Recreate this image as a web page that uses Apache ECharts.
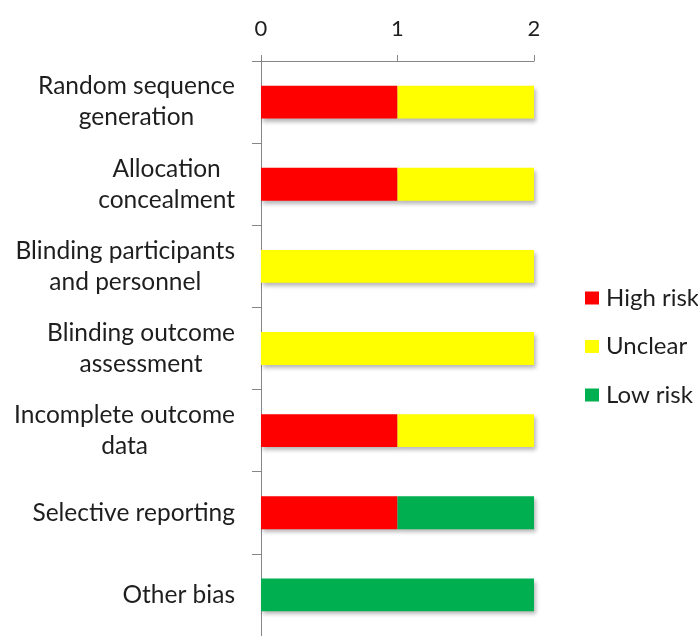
<!DOCTYPE html>
<html>
<head>
<meta charset="utf-8">
<script src="https://cdn.jsdelivr.net/npm/echarts@6/dist/echarts.min.js"></script>
<style>
  html, body { margin: 0; padding: 0; background: #fff; }
  #chart { width: 698px; height: 636px; }
</style>
</head>
<body>
<div id="chart"></div>
<script>
// Risk-of-bias domains (top to bottom) and study counts per judgement
var domains = [
  'Random sequence\ngeneration',
  'Allocation\nconcealment',
  'Blinding participants\nand personnel',
  'Blinding outcome\nassessment',
  'Incomplete outcome\ndata',
  'Selective reporting',
  'Other bias'
];
var highRisk = [1, 1, 0, 0, 1, 1, 0];
var unclear  = [1, 1, 2, 2, 1, 0, 0];
var lowRisk  = [0, 0, 0, 0, 0, 1, 2];
var xTicks = [0, 1, 2];

var FONT = 'Lato, "Open Sans", sans-serif';
var AXIS_GRAY = '#868686';
var TEXT = '#1e1e1e';

function barSeries(name, data, color) {
  return {
    name: name,
    type: 'bar',
    stack: 'total',
    data: data,
    barWidth: '40%',
    itemStyle: {
      color: color,
      shadowColor: 'rgba(0,0,0,0.28)',
      shadowBlur: 4,
      shadowOffsetX: 2,
      shadowOffsetY: 3
    }
  };
}

var chart = echarts.init(document.getElementById('chart'), null, { renderer: 'canvas' });
chart.setOption({
  animation: false,
  backgroundColor: '#ffffff',
  textStyle: { fontFamily: FONT },
  grid: { left: 261, top: 61, width: 273, height: 579, containLabel: false },
  legend: {
    orient: 'vertical',
    left: 585,
    top: 286,
    padding: 0,
    itemWidth: 14,
    itemHeight: 13,
    itemGap: 24.5,
    icon: 'rect',
    textStyle: { fontFamily: FONT, fontSize: 24, lineHeight: 24, color: TEXT, padding: [0, 0, 0, 2] },
    data: ['High risk', 'Unclear', 'Low risk']
  },
  xAxis: {
    type: 'value',
    position: 'top',
    min: xTicks[0],
    max: xTicks[xTicks.length - 1],
    interval: 1,
    splitLine: { show: false },
    axisLine: { show: true, lineStyle: { color: AXIS_GRAY, width: 1 } },
    axisTick: { show: true, length: 6, lineStyle: { color: AXIS_GRAY } },
    axisLabel: { fontFamily: FONT, fontSize: 22, color: TEXT, margin: 21 }
  },
  yAxis: {
    type: 'category',
    inverse: true,
    data: domains,
    axisLine: { show: true, lineStyle: { color: AXIS_GRAY, width: 1 } },
    axisTick: { show: true, length: 9, lineStyle: { color: AXIS_GRAY } },
    axisLabel: {
      margin: 26,
      align: 'right',
      fontFamily: FONT,
      fontSize: 24.5,
      color: TEXT,
      lineHeight: 31,
      formatter: function (v) {
        return v.split('\n').map(function (s) { return '{c|' + s + '}'; }).join('\n');
      },
      rich: {
        c: { align: 'center', fontFamily: FONT, fontSize: 24.5, color: TEXT, lineHeight: 31 }
      }
    }
  },
  series: [
    barSeries('High risk', highRisk, '#ff0000'),
    barSeries('Unclear', unclear, '#ffff00'),
    barSeries('Low risk', lowRisk, '#00b050')
  ]
});
</script>
</body>
</html>
